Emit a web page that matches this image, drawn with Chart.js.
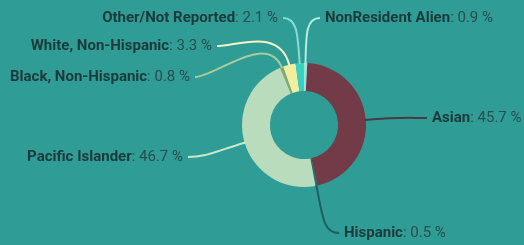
<!DOCTYPE html>
<html>
<head>
<meta charset="utf-8">
<script src="https://cdn.jsdelivr.net/npm/chart.js@4.4.0/dist/chart.umd.min.js"></script>
<style>
  html, body { margin: 0; padding: 0; background: #2f9c95; }
  #wrap { width: 524px; height: 245px; }
</style>
</head>
<body>
<div id="wrap"><canvas id="raceChart" width="524" height="245"></canvas></div>
<script>
// Dados do gráfico
const categories = ['Asian', 'Hispanic', 'Pacific Islander', 'Black, Non-Hispanic', 'White, Non-Hispanic', 'Other/Not Reported', 'NonResident Alien'];
const percentages = [45.7, 0.5, 46.7, 0.8, 3.3, 2.1, 0.9];

const sliceColors = ['#723b47', '#236d6e', '#b9dcbc', '#86a86a', '#f1eea0', '#37d1c3', '#9fe3d9'];
const lineColors = ['#4a3a44', '#1f5f60', '#c8e8cb', '#a8cc9c', '#f3f2c8', '#86ddd4', '#b4ece5'];

// posição de cada rótulo (x, y, alinhamento)
const labelLayout = [
    { x: 432, y: 118, align: 'left' },
    { x: 344, y: 233, align: 'left' },
    { x: 183, y: 157, align: 'right' },
    { x: 190, y: 77, align: 'right' },
    { x: 212, y: 46, align: 'right' },
    { x: 278, y: 18, align: 'right' },
    { x: 325, y: 18, align: 'left' }
];

const FONT = 'Roboto, "Liberation Sans", sans-serif';
const FONT_SIZE = 15;

// Plugin para desenhar os rótulos com linhas guia
const calloutPlugin = {
    id: 'callouts',
    afterDatasetsDraw(chart) {
        const ctx = chart.ctx;
        const meta = chart.getDatasetMeta(0);
        meta.data.forEach((arc, i) => {
            const p = arc.getProps(['x', 'y', 'startAngle', 'endAngle', 'outerRadius'], true);
            const mid = (p.startAngle + p.endAngle) / 2;
            const sx = p.x + Math.cos(mid) * (p.outerRadius - 1);
            const sy = p.y + Math.sin(mid) * (p.outerRadius - 1);
            const lay = labelLayout[i];
            const ex = lay.align === 'left' ? lay.x - 5 : lay.x + 5;
            const ey = lay.y;
            const dist = Math.hypot(ex - sx, ey - sy);
            const k = Math.min(dist * 0.6, 40);

            ctx.save();
            ctx.strokeStyle = lineColors[i];
            ctx.lineWidth = 2;
            ctx.beginPath();
            ctx.moveTo(sx, sy);
            ctx.bezierCurveTo(
                sx + Math.cos(mid) * k, sy + Math.sin(mid) * k,
                ex + (lay.align === 'left' ? -k * 0.5 : k * 0.5), ey,
                ex, ey
            );
            ctx.stroke();

            // texto
            const name = categories[i];
            const value = ': ' + percentages[i].toFixed(1) + ' %';
            ctx.textBaseline = 'middle';
            ctx.font = 'bold ' + FONT_SIZE + 'px ' + FONT;
            const wName = ctx.measureText(name).width;
            ctx.font = FONT_SIZE + 'px ' + FONT;
            const wVal = ctx.measureText(value).width;
            let x0 = lay.align === 'left' ? lay.x : lay.x - wName - wVal;
            ctx.textAlign = 'left';
            ctx.fillStyle = '#1c3a3b';
            ctx.font = 'bold ' + FONT_SIZE + 'px ' + FONT;
            ctx.fillText(name, x0, ey);
            ctx.fillStyle = '#2a4d4d';
            ctx.font = FONT_SIZE + 'px ' + FONT;
            ctx.fillText(value, x0 + wName, ey);
            ctx.restore();
        });
    }
};

const raceCtx = document.getElementById('raceChart').getContext('2d');
const raceChart = new Chart(raceCtx, {
    type: 'doughnut',
    data: {
        labels: categories,
        datasets: [{
            data: percentages,
            backgroundColor: sliceColors,
            borderWidth: 0
        }]
    },
    options: {
        responsive: false,
        animation: false,
        cutout: '55%',
        rotation: 3,
        layout: {
            padding: { left: 200, right: 116, top: 63, bottom: 58 }
        },
        plugins: {
            legend: { display: false },
            tooltip: { enabled: false }
        }
    },
    plugins: [calloutPlugin]
});
</script>
</body>
</html>
